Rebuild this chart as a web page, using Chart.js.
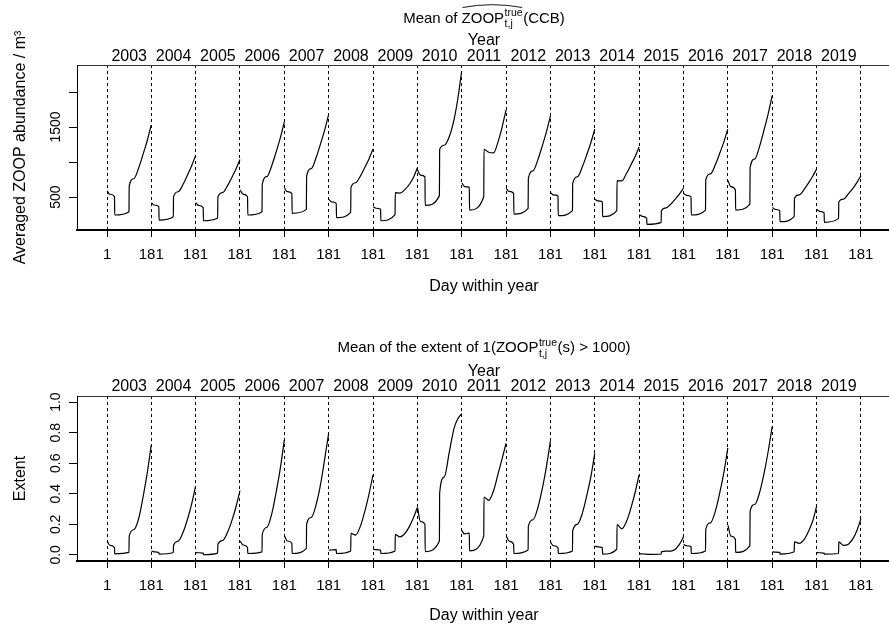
<!DOCTYPE html>
<html>
<head>
<meta charset="utf-8">
<script src="https://cdn.jsdelivr.net/npm/chart.js@4.4.1/dist/chart.umd.min.js"></script>
<style>
  html, body { margin: 0; padding: 0; background: #fff; width: 889px; height: 628px; overflow: hidden; }
  .panel { position: absolute; left: 0; width: 905px; height: 314px; }
  canvas { display: block; }
</style>
</head>
<body>
<div class="panel" style="top:0"><canvas id="zoopChart" width="905" height="314"></canvas></div>
<div class="panel" style="top:314px"><canvas id="extentChart" width="905" height="314"></canvas></div>
<script>
const FONT = "'Liberation Sans', Arial, Helvetica, sans-serif";
Chart.defaults.font.family = FONT;
Chart.defaults.color = '#000';

// ---- data ----
const years = [2003, 2004, 2005, 2006, 2007, 2008, 2009, 2010, 2011,
               2012, 2013, 2014, 2015, 2016, 2017, 2018, 2019];
// days within each year at which values were read
const days = [1, 12, 31, 32, 90, 91, 110, 130, 150, 165, 181];

const dayTicks = [1, 181, 362, 543, 724, 905, 1086, 1267, 1448, 1629,
                  1810, 1991, 2172, 2353, 2534, 2715, 2896, 3077];
const dayTickLabels = ['1', '181', '181', '181', '181', '181', '181', '181', '181',
                       '181', '181', '181', '181', '181', '181', '181', '181', '181'];

// Mean of ZOOP-hat (CCB), one row per year, values at `days`
const zoopMean = [
  [586, 540, 505, 243, 290, 657, 762, 919, 1137, 1311, 1529],
  [419, 386, 362, 171, 219, 505, 576, 682, 830, 948, 1095],
  [419, 380, 348, 161, 200, 500, 564, 660, 794, 901, 1035],
  [600, 543, 505, 243, 290, 686, 792, 951, 1171, 1348, 1568],
  [624, 576, 552, 267, 324, 800, 906, 1064, 1284, 1460, 1680],
  [467, 430, 410, 205, 281, 638, 704, 802, 939, 1048, 1185],
  [362, 340, 324, 161, 248, 562, 555, 605, 690, 780, 915],
  [886, 814, 790, 380, 520, 1181, 1240, 1360, 1610, 1900, 2300],
  [700, 650, 638, 314, 505, 1181, 1140, 1130, 1310, 1500, 1745],
  [624, 580, 552, 257, 338, 767, 874, 1034, 1256, 1435, 1657],
  [562, 530, 514, 233, 305, 695, 788, 928, 1121, 1276, 1470],
  [467, 445, 433, 219, 305, 733, 730, 840, 975, 1080, 1215],
  [248, 225, 200, 110, 138, 305, 345, 400, 480, 545, 625],
  [552, 525, 505, 243, 314, 743, 830, 961, 1143, 1288, 1470],
  [733, 648, 600, 314, 400, 919, 1043, 1228, 1486, 1692, 1950],
  [352, 325, 305, 148, 219, 481, 531, 606, 710, 794, 898],
  [324, 295, 276, 138, 195, 433, 470, 545, 630, 710, 802]
];

// Mean extent of 1(ZOOP > 1000), one row per year, values at `days`
const extentMean = [
  [0.091, 0.063, 0.048, 0.007, 0.016, 0.123, 0.165, 0.24, 0.40, 0.54, 0.72],
  [0.026, 0.020, 0.016, 0.005, 0.016, 0.063, 0.090, 0.148, 0.245, 0.334, 0.45],
  [0.016, 0.014, 0.012, 0.002, 0.012, 0.069, 0.094, 0.146, 0.234, 0.315, 0.42],
  [0.091, 0.065, 0.048, 0.009, 0.020, 0.134, 0.18, 0.27, 0.43, 0.57, 0.751],
  [0.123, 0.091, 0.076, 0.009, 0.041, 0.199, 0.245, 0.33, 0.48, 0.63, 0.795],
  [0.030, 0.032, 0.034, 0.009, 0.026, 0.141, 0.13, 0.19, 0.30, 0.40, 0.524],
  [0.037, 0.034, 0.032, 0.009, 0.026, 0.132, 0.118, 0.14, 0.19, 0.243, 0.31],
  [0.31, 0.22, 0.20, 0.022, 0.091, 0.405, 0.51, 0.67, 0.83, 0.89, 0.925],
  [0.158, 0.137, 0.143, 0.026, 0.123, 0.379, 0.357, 0.42, 0.54, 0.63, 0.73],
  [0.123, 0.091, 0.069, 0.009, 0.032, 0.188, 0.23, 0.31, 0.45, 0.58, 0.745],
  [0.082, 0.060, 0.048, 0.009, 0.026, 0.158, 0.20, 0.27, 0.40, 0.51, 0.665],
  [0.058, 0.052, 0.048, 0.005, 0.037, 0.199, 0.17, 0.22, 0.32, 0.41, 0.524],
  [0.008, 0.006, 0.005, 0.004, 0.005, 0.020, 0.024, 0.025, 0.04, 0.07, 0.118],
  [0.069, 0.060, 0.054, 0.009, 0.026, 0.167, 0.21, 0.285, 0.42, 0.54, 0.70],
  [0.193, 0.123, 0.102, 0.016, 0.059, 0.286, 0.33, 0.41, 0.55, 0.68, 0.84],
  [0.020, 0.018, 0.016, 0.005, 0.020, 0.085, 0.076, 0.10, 0.16, 0.22, 0.315],
  [0.016, 0.014, 0.012, 0.005, 0.009, 0.085, 0.062, 0.07, 0.11, 0.16, 0.235]
];

const zoopTicks = [500, 1000, 1500, 2000];
const zoopTickLabels = ['500', '', '1500', ''];
const extentTicks = [0, 0.2, 0.4, 0.6, 0.8, 1.0];
const extentTickLabels = ['0.0', '0.2', '0.4', '0.6', '0.8', '1.0'];

// one point per reading, a gap between years so the lines break
function buildPoints(series) {
  const pts = [];
  series.forEach((vals, k) => {
    vals.forEach((v, j) => pts.push({ x: k * 181 + days[j], y: v }));
    pts.push({ x: k * 181 + 181.5, y: null });
  });
  return pts;
}

// draw a title made of plain, superscript/subscript and hatted pieces
function drawTitle(ctx, parts, cx, baseY) {
  const main = `15px ${FONT}`, small = `10.5px ${FONT}`;
  const widths = parts.map(p => {
    if (p.t !== undefined) { ctx.font = main; return ctx.measureText(p.t).width; }
    ctx.font = small;
    return Math.max(ctx.measureText(p.sup).width, ctx.measureText(p.sub).width) + 1;
  });
  const total = widths.reduce((a, b) => a + b, 0);
  let x = cx - total / 2;
  let hatX0 = null;
  ctx.textAlign = 'left';
  ctx.textBaseline = 'alphabetic';
  parts.forEach((p, i) => {
    if (p.hatStart) hatX0 = x;
    if (p.t !== undefined) {
      ctx.font = main;
      ctx.fillText(p.t, x, baseY);
    } else {
      ctx.font = small;
      ctx.fillText(p.sup, x + 0.5, baseY - 6.7);
      ctx.fillText(p.sub, x + 0.5, baseY + 4.2);
    }
    x += widths[i];
    if (p.hatEnd && hatX0 !== null) {
      const yEnd = baseY - 15.2, yPeak = baseY - 18;
      ctx.beginPath();
      ctx.lineWidth = 0.9;
      ctx.strokeStyle = '#000';
      ctx.moveTo(hatX0 + 1, yEnd);
      ctx.quadraticCurveTo((hatX0 + x) / 2, 2 * yPeak - yEnd, x - 1, yEnd);
      ctx.stroke();
    }
  });
}

const panelText = {
  id: 'panelText',
  afterDraw(chart, args, opts) {
    const ctx = chart.ctx;
    const area = chart.chartArea;
    const yScale = chart.scales.y;
    ctx.save();
    ctx.fillStyle = '#000';
    ctx.font = `14px ${FONT}`;
    ctx.textAlign = 'center';
    ctx.textBaseline = 'alphabetic';
    opts.yTicks.forEach((v, i) => {
      const lab = opts.yLabels[i];
      if (!lab) return;
      ctx.save();
      ctx.translate(60, yScale.getPixelForValue(v));
      ctx.rotate(-Math.PI / 2);
      ctx.fillText(lab, 0, 0);
      ctx.restore();
    });
    drawTitle(ctx, opts.title, (area.left + area.right) / 2, opts.titleY);
    ctx.restore();
  }
};

function makePanel(id, o) {
  return new Chart(document.getElementById(id), {
    type: 'line',
    data: {
      datasets: [{
        data: buildPoints(o.series),
        borderColor: '#000',
        borderWidth: 1.2,
        pointRadius: 0,
        cubicInterpolationMode: 'monotone',
        spanGaps: false,
        fill: false
      }]
    },
    options: {
      responsive: false,
      animation: false,
      events: [],
      layout: { padding: { left: 0, right: 14, top: 0, bottom: 0 } },
      plugins: {
        legend: { display: false },
        tooltip: { enabled: false },
        panelText: { yTicks: o.yTicks, yLabels: o.yLabels, title: o.title, titleY: o.titleY }
      },
      scales: {
        x: {
          type: 'linear', position: 'bottom', min: -122, max: 3200,
          afterBuildTicks: s => { s.ticks = dayTicks.map(v => ({ value: v })); },
          afterFit: s => { s.height = o.bottomH; },
          ticks: {
            autoSkip: false, maxRotation: 0, minRotation: 0, padding: 9,
            font: { size: 15 }, color: '#000',
            callback: (v, i) => dayTickLabels[i]
          },
          grid: { color: '#000', lineWidth: 1, drawTicks: true, tickLength: 7, tickColor: '#000', tickWidth: 1, tickBorderDash: [] },
          border: { display: true, color: '#000', width: 2, dash: [3, 3] },
          title: { display: true, text: 'Day within year', font: { size: 16 }, color: '#000', padding: { top: 0, bottom: o.xTitlePad } }
        },
        xTop: {
          type: 'linear', position: 'top', min: -122, max: 3200,
          afterBuildTicks: s => { s.ticks = years.map((y, k) => ({ value: k * 181 + 91 })); },
          afterFit: s => { s.height = o.topH; },
          ticks: {
            autoSkip: false, maxRotation: 0, minRotation: 0, padding: o.yearPad,
            font: { size: 16, lineHeight: 1 }, color: '#000',
            callback: (v, i) => String(years[i])
          },
          grid: { display: false, drawTicks: false },
          border: { display: true, color: '#333', width: 1 },
          title: { display: true, text: 'Year', font: { size: 16 }, color: '#000', padding: { top: o.yearTitlePad, bottom: 0 } }
        },
        y: {
          type: 'linear', position: 'left', min: o.yMin, max: o.yMax,
          afterBuildTicks: s => { s.ticks = o.yTicks.map(v => ({ value: v })); },
          afterFit: s => { s.width = 77; },
          ticks: { display: false },
          grid: { drawOnChartArea: false, drawTicks: true, tickLength: 8, color: '#000', tickColor: '#000' },
          border: { display: true, color: '#000', width: 1 },
          title: { display: true, text: o.yTitle, font: { size: 16 }, color: '#000', padding: { top: 11, bottom: 0 } }
        }
      }
    },
    plugins: [panelText]
  });
}

makePanel('zoopChart', {
  series: zoopMean,
  yMin: 29, yMax: 2386,
  yTicks: zoopTicks, yLabels: zoopTickLabels,
  yTitle: 'Averaged ZOOP abundance / m³',
  topH: 65, bottomH: 84,
  yearPad: 0, yearTitlePad: 31, xTitlePad: 18,
  titleY: 22.7,
  title: [{ t: 'Mean of ' }, { t: 'ZOOP', hatStart: true }, { sup: 'true', sub: 't,j', hatEnd: true }, { t: '(CCB)' }]
});

makePanel('extentChart', {
  series: extentMean,
  yMin: -0.04, yMax: 1.04,
  yTicks: extentTicks, yLabels: extentTickLabels,
  yTitle: 'Extent',
  topH: 82, bottomH: 67,
  yearPad: 1, yearTitlePad: 48, xTitlePad: 2.6,
  titleY: 38.3,
  title: [{ t: 'Mean of the extent of 1(ZOOP' }, { sup: 'true', sub: 't,j' }, { t: '(s) > 1000)' }]
});
</script>
</body>
</html>
